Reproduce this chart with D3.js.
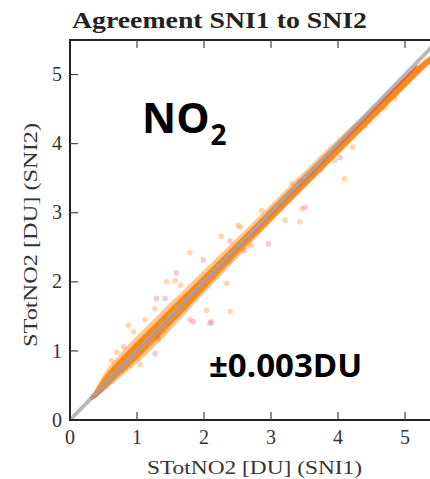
<!DOCTYPE html>
<html>
<head>
<meta charset="utf-8">
<script src="https://cdn.jsdelivr.net/npm/d3@7"></script>
<style>
  body { margin: 0; background: #fff; }
  svg { display: block; }
</style>
</head>
<body>
<div id="chart"></div>
<script>

// tick values of both axes
const xTicks = [0, 1, 2, 3, 4, 5];
const yTicks = [0, 1, 2, 3, 4, 5];

// dense cloud of SNI1/SNI2 pairs, read as an envelope along x
const bandX   = [0.33, 0.50, 0.75, 1.00, 1.25, 1.50, 1.75, 2.00, 2.50, 3.00, 3.50, 4.00, 4.50, 5.00, 5.40];
const outerLo = [0.30, 0.42, 0.62, 0.82, 1.05, 1.30, 1.57, 1.83, 2.35, 2.86, 3.36, 3.85, 4.34, 4.82, 5.18];
const outerHi = [0.36, 0.66, 0.96, 1.22, 1.46, 1.70, 1.93, 2.17, 2.64, 3.12, 3.60, 4.07, 4.52, 4.98, 5.30];
const coreLo  = [0.31, 0.44, 0.66, 0.88, 1.12, 1.37, 1.62, 1.88, 2.40, 2.91, 3.40, 3.88, 4.37, 4.85, 5.19];
const coreHi  = [0.35, 0.61, 0.89, 1.14, 1.38, 1.62, 1.86, 2.10, 2.58, 3.07, 3.55, 4.03, 4.49, 4.96, 5.28];

// red series showing at the low end of the cloud
const redBandX = [0.30, 0.38, 0.45, 0.55, 0.65];
const redLo    = [0.28, 0.32, 0.38, 0.47, 0.57];
const redHi    = [0.34, 0.42, 0.48, 0.56, 0.66];

// scattered points away from the cloud
const orangeX = [1.79, 1.44, 1.57, 2.26, 2.51, 2.39, 1.27, 2.34, 2.04, 0.87, 4.10, 3.31, 3.21, 3.43, 3.03, 2.86, 3.46, 2.54, 4.22, 0.62, 0.95, 4.70, 4.85, 1.12, 1.05, 0.70, 1.65, 2.70, 3.75, 3.95, 4.40];
const orangeY = [2.42, 2.00, 2.02, 2.66, 2.82, 1.57, 1.61, 1.98, 1.59, 1.37, 3.49, 3.42, 2.89, 2.87, 2.99, 3.03, 3.06, 2.79, 3.95, 0.86, 1.28, 4.52, 4.66, 1.45, 0.80, 0.98, 1.95, 2.52, 3.62, 3.76, 4.25];
const redX = [1.59, 1.29, 1.42, 1.79, 1.99, 2.39, 2.96, 2.11, 1.27, 1.32, 1.84, 2.09, 3.51, 4.03, 3.43, 0.80, 2.60];
const redY = [2.13, 1.76, 1.76, 1.45, 2.32, 2.59, 2.55, 1.42, 0.96, 1.18, 1.42, 1.40, 3.08, 3.80, 3.46, 1.06, 2.45];

// fitted lines and the 1:1 line
const redFitX = [0.33, 5.18];
const redFitY = [0.33, 5.13];
const orangeFitX = [0.35, 5.50];
const orangeFitY = [0.36, 5.32];
const oneToOne = [0, 5.5];

const width = 430;
const height = 479;
const marginTop = 40;
const marginLeft = 70;
const marginBottom = 59;
const plotRight = 438.5;

const x = d3.scaleLinear([0, 5.5], [marginLeft, plotRight]);
const y = d3.scaleLinear([0, 5.5], [height - marginBottom, marginTop]);

const orange = "#ff8a1d";
const red = "#e42a3f";
const serif = "'Liberation Serif', 'DejaVu Serif', serif";

const svg = d3.select("#chart").append("svg")
  .attr("width", width)
  .attr("height", height)
  .attr("viewBox", [0, 0, width, height]);

const defs = svg.append("defs");
defs.append("clipPath")
  .attr("id", "plot")
  .append("rect")
  .attr("x", marginLeft).attr("y", marginTop)
  .attr("width", plotRight - marginLeft).attr("height", y(0) - marginTop);

defs.append("filter")
  .attr("id", "soft")
  .append("feGaussianBlur").attr("stdDeviation", 0.6);

const plot = svg.append("g").attr("clip-path", "url(#plot)");

// areas for the cloud
function band(xs, lo, hi) {
  return d3.area()
    .curve(d3.curveMonotoneX)
    .x(i => x(xs[i]))
    .y0(i => y(lo[i]))
    .y1(i => y(hi[i]))(d3.range(xs.length));
}

const cloud = plot.append("g").attr("filter", "url(#soft)");

cloud.append("path")
  .attr("d", band(redBandX, redLo, redHi))
  .attr("fill", red)
  .attr("fill-opacity", 0.85);

cloud.append("path")
  .attr("d", band(bandX, outerLo, outerHi))
  .attr("fill", orange)
  .attr("fill-opacity", 0.5);

cloud.append("path")
  .attr("d", band(bandX, coreLo, coreHi))
  .attr("fill", "#f8891a")
  .attr("fill-opacity", 1);

// scattered points
plot.append("g")
  .selectAll("circle")
  .data(d3.range(redX.length))
  .join("circle")
  .attr("cx", i => x(redX[i]))
  .attr("cy", i => y(redY[i]))
  .attr("r", 2.8)
  .attr("fill", red)
  .attr("fill-opacity", 0.25);

plot.append("g")
  .selectAll("circle")
  .data(d3.range(orangeX.length))
  .join("circle")
  .attr("cx", i => x(orangeX[i]))
  .attr("cy", i => y(orangeY[i]))
  .attr("r", 2.8)
  .attr("fill", orange)
  .attr("fill-opacity", 0.35);

// fits and the 1:1 line
const line = (xs, ys) => d3.line().x(i => x(xs[i])).y(i => y(ys[i]))(d3.range(xs.length));

plot.append("path")
  .attr("d", line(orangeFitX, orangeFitY))
  .attr("stroke", orange)
  .attr("stroke-width", 3)
  .attr("fill", "none");

plot.append("path")
  .attr("d", line(redFitX, redFitY))
  .attr("stroke", red)
  .attr("stroke-width", 2)
  .attr("stroke-opacity", 0.6)
  .attr("fill", "none");

plot.append("path")
  .attr("d", line(oneToOne, oneToOne))
  .attr("stroke", "#a8a8a8")
  .attr("stroke-width", 4)
  .attr("stroke-opacity", 0.8)
  .attr("fill", "none");

// frame and inward ticks
const frame = svg.append("g")
  .attr("stroke", "#222")
  .attr("fill", "none");

frame.append("rect")
  .attr("x", marginLeft).attr("y", marginTop)
  .attr("width", plotRight - marginLeft).attr("height", y(0) - marginTop)
  .attr("stroke-width", 2);

const tickLen = 8;
frame.append("g")
  .attr("stroke-width", 1.2)
  .attr("stroke", "#444")
  .selectAll("path")
  .data(xTicks.slice(1))
  .join("path")
  .attr("d", d => `M${x(d)},${y(0)}v${-tickLen}M${x(d)},${marginTop}v${tickLen}`);

frame.append("g")
  .attr("stroke-width", 1.2)
  .attr("stroke", "#444")
  .selectAll("path")
  .data(yTicks.slice(1))
  .join("path")
  .attr("d", d => `M${marginLeft},${y(d)}h${tickLen}`);

// tick labels
svg.append("g")
  .attr("font-family", serif)
  .attr("font-size", 20)
  .attr("fill", "#333")
  .attr("text-anchor", "middle")
  .selectAll("text")
  .data(xTicks)
  .join("text")
  .attr("x", d => x(d))
  .attr("y", 444)
  .text(d => d);

svg.append("g")
  .attr("font-family", serif)
  .attr("font-size", 20)
  .attr("fill", "#333")
  .attr("text-anchor", "end")
  .selectAll("text")
  .data(yTicks)
  .join("text")
  .attr("x", 62)
  .attr("y", d => y(d))
  .attr("dy", "0.33em")
  .text(d => d);

// titles
svg.append("text")
  .attr("x", 72)
  .attr("y", 28)
  .attr("font-family", serif)
  .attr("font-weight", "bold")
  .attr("font-size", 24)
  .attr("textLength", 295)
  .attr("lengthAdjust", "spacingAndGlyphs")
  .attr("fill", "#222")
  .text("Agreement SNI1 to SNI2");

svg.append("text")
  .attr("x", 147)
  .attr("y", 474)
  .attr("font-family", serif)
  .attr("font-size", 19)
  .attr("textLength", 215)
  .attr("lengthAdjust", "spacingAndGlyphs")
  .attr("fill", "#333")
  .text("STotNO2 [DU] (SNI1)");

svg.append("text")
  .attr("transform", `translate(37,347) rotate(-90)`)
  .attr("font-family", serif)
  .attr("font-size", 19)
  .attr("textLength", 224)
  .attr("lengthAdjust", "spacingAndGlyphs")
  .attr("fill", "#333")
  .text("STotNO2 [DU] (SNI2)");

// annotations
const no2 = svg.append("text")
  .attr("x", 142)
  .attr("y", 133)
  .attr("font-family", "'Open Sans', 'Noto Sans', sans-serif")
  .attr("font-weight", "bold")
  .attr("font-size", 42)
  .attr("fill", "#000");
no2.append("tspan").text("NO");
no2.append("tspan").attr("font-size", 28).attr("dy", 12).attr("dx", 1).text("2");

svg.append("text")
  .attr("x", 209)
  .attr("y", 377)
  .attr("font-family", "'Open Sans', 'Noto Sans', sans-serif")
  .attr("font-weight", "bold")
  .attr("font-size", 33)
  .attr("fill", "#000")
  .text("±0.003DU");

</script>
</body>
</html>
